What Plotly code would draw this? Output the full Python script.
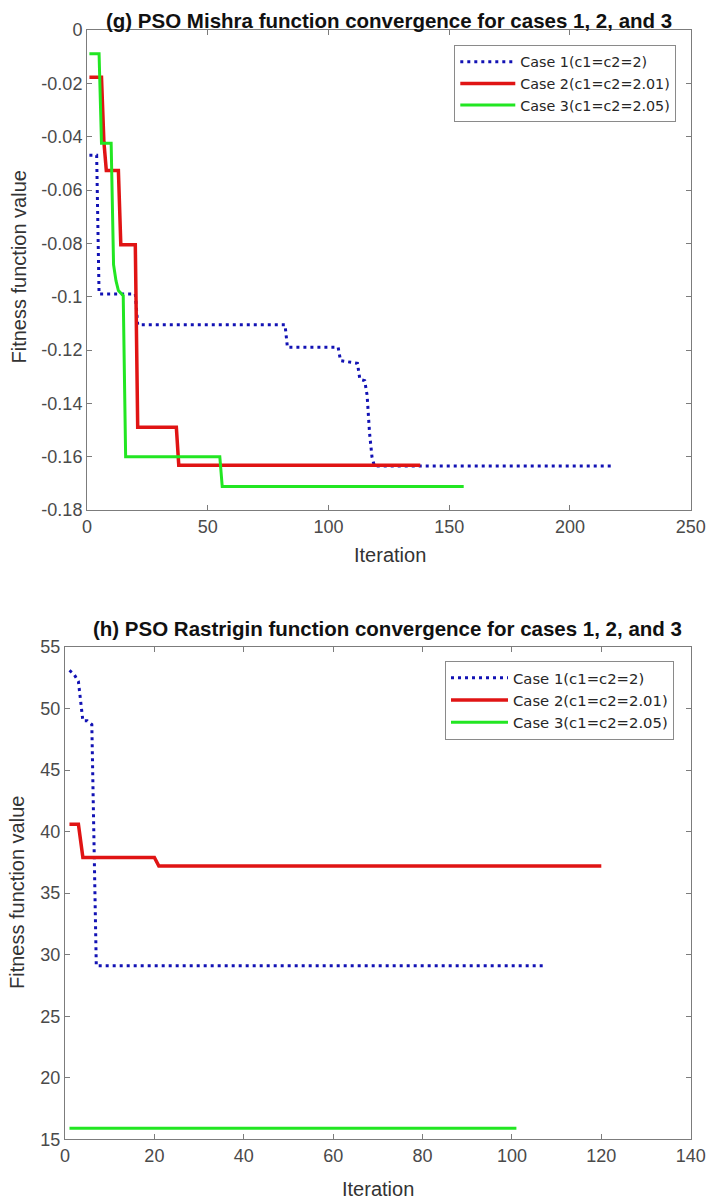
import plotly.graph_objects as go

W, H = 708, 1200

# ---------------- (g) PSO Mishra function ----------------
g_iter_c1 = [1, 4, 5, 20, 21, 82, 83, 104, 105, 112, 113, 115, 116, 117, 118, 119, 218]
g_fit_c1 = [-0.047, -0.047, -0.099, -0.099, -0.1105, -0.1105, -0.119, -0.119,
            -0.124, -0.125, -0.131, -0.1315, -0.137, -0.151, -0.160, -0.1635, -0.1635]
g_iter_c2 = [1, 6, 7, 8, 13, 14, 20, 21, 37, 38, 138]
g_fit_c2 = [-0.0177, -0.0177, -0.042, -0.0527, -0.0527, -0.0805, -0.0805,
            -0.149, -0.149, -0.1632, -0.1632]
g_iter_c3 = [1, 5, 6, 10, 11, 12, 13, 15, 16, 55, 56, 156]
g_fit_c3 = [-0.0089, -0.0089, -0.0425, -0.0425, -0.088, -0.094, -0.0977,
            -0.0996, -0.160, -0.160, -0.1712, -0.1712]
g_xticks = [0, 50, 100, 150, 200, 250]
g_yticks = [0, -0.02, -0.04, -0.06, -0.08, -0.1, -0.12, -0.14, -0.16, -0.18]
g_yticktext = ["0", "-0.02", "-0.04", "-0.06", "-0.08", "-0.1", "-0.12", "-0.14", "-0.16", "-0.18"]

# ---------------- (h) PSO Rastrigin function ----------------
h_iter_c1 = [1, 2, 3, 4, 5, 6, 7, 107]
h_fit_c1 = [53.1, 52.8, 52.2, 49.0, 49.0, 48.7, 29.1, 29.1]
h_iter_c2 = [1, 3, 4, 20, 21, 120]
h_fit_c2 = [40.6, 40.6, 37.9, 37.9, 37.2, 37.2]
h_iter_c3 = [1, 101]
h_fit_c3 = [15.9, 15.9]
h_xticks = [0, 20, 40, 60, 80, 100, 120, 140]
h_yticks = [15, 20, 25, 30, 35, 40, 45, 50, 55]

case_names = ["Case 1(c1=c2=2)", "Case 2(c1=c2=2.01)", "Case 3(c1=c2=2.05)"]
titles = ["(g) PSO Mishra function convergence for cases 1, 2, and 3",
          "(h) PSO Rastrigin function convergence for cases 1, 2, and 3"]
xlabel = "Iteration"
ylabel = "Fitness function value"

BLUE = "#1212b4"
RED = "#e01414"
GREEN = "#22e622"
FONT = "Liberation Sans, Arial, sans-serif"
LEGFONT = "DejaVu Sans, sans-serif"

styles = [
    dict(color=BLUE, width=3, dash="3px,4px"),
    dict(color=RED, width=3.5),
    dict(color=GREEN, width=3),
]

fig = go.Figure()

g_data = [(g_iter_c1, g_fit_c1), (g_iter_c2, g_fit_c2), (g_iter_c3, g_fit_c3)]
h_data = [(h_iter_c1, h_fit_c1), (h_iter_c2, h_fit_c2), (h_iter_c3, h_fit_c3)]

for (xs, ys), name, st in zip(g_data, case_names, styles):
    fig.add_trace(go.Scatter(x=xs, y=ys, mode="lines", name=name, line=st,
                             xaxis="x", yaxis="y", legend="legend"))
for (xs, ys), name, st in zip(h_data, case_names, styles):
    fig.add_trace(go.Scatter(x=xs, y=ys, mode="lines", name=name, line=st,
                             xaxis="x2", yaxis="y2", legend="legend2"))

def px_x(v):
    return v / W

def px_y(v):
    return 1 - v / H

axis_common = dict(
    showline=True, linecolor="#7c7c7c", linewidth=1, mirror="ticks",
    ticks="inside", ticklen=5, tickcolor="#7c7c7c", tickwidth=1,
    showgrid=False, zeroline=False, automargin=False,
    tickfont=dict(family=FONT, size=18, color="#4a4a4a"),
)

# plot area pixel boxes
g_box = dict(l=87, r=690.7, t=30, b=510)
h_box = dict(l=65, r=690.7, t=647, b=1139.3)

fig.update_layout(
    width=W, height=H,
    margin=dict(l=0, r=0, t=0, b=0, autoexpand=False),
    paper_bgcolor="white", plot_bgcolor="white",
    font=dict(family=FONT),
    xaxis=dict(axis_common, domain=[px_x(g_box["l"]), px_x(g_box["r"])],
               range=[0, 250], tickvals=g_xticks, anchor="y"),
    yaxis=dict(axis_common, domain=[px_y(g_box["b"]), px_y(g_box["t"])],
               range=[-0.18, 0], tickvals=g_yticks, ticktext=g_yticktext, anchor="x"),
    xaxis2=dict(axis_common, domain=[px_x(h_box["l"]), px_x(h_box["r"])],
                range=[0, 140], tickvals=h_xticks, anchor="y2"),
    yaxis2=dict(axis_common, domain=[px_y(h_box["b"]), px_y(h_box["t"])],
                range=[15, 55], tickvals=h_yticks, anchor="x2"),
    legend=dict(x=px_x(454.3), y=px_y(45), xanchor="left", yanchor="top",
                bgcolor="white", bordercolor="#8a8a8a", borderwidth=1,
                font=dict(family=LEGFONT, size=14.3, color="#262626"),
                itemwidth=55, tracegroupgap=0),
    legend2=dict(x=px_x(445), y=px_y(660.7), xanchor="left", yanchor="top",
                 bgcolor="white", bordercolor="#8a8a8a", borderwidth=1,
                 font=dict(family=LEGFONT, size=14.8, color="#262626"),
                 itemwidth=57, tracegroupgap=0),
    showlegend=True,
)

annotations = [
    dict(text="<b>" + titles[0] + "</b>", x=px_x(388.5), y=px_y(20),
         font=dict(size=20.5, color="#111111")),
    dict(text="<b>" + titles[1] + "</b>", x=px_x(387), y=px_y(628.5),
         font=dict(size=20.5, color="#111111")),
    dict(text=xlabel, x=px_x(389.7), y=px_y(555), font=dict(size=20, color="#333333")),
    dict(text=xlabel, x=px_x(378), y=px_y(1189), font=dict(size=20, color="#333333")),
    dict(text=ylabel, x=px_x(18), y=px_y(267.5), textangle=-90,
         font=dict(size=20, color="#333333")),
    dict(text=ylabel, x=px_x(17), y=px_y(893), textangle=-90,
         font=dict(size=20, color="#333333")),
]
for a in annotations:
    a.update(xref="paper", yref="paper", xanchor="center", yanchor="middle",
             showarrow=False)
    a["font"]["family"] = FONT
fig.update_layout(annotations=annotations)

fig.write_html(
    "out.html",
    config={"displayModeBar": False},
    post_script="document.body.style.margin='0';document.body.style.overflow='hidden';",
)
